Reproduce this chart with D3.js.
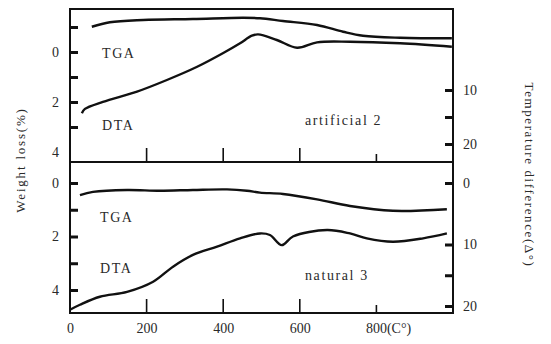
<!DOCTYPE html>
<html>
<head>
<meta charset="utf-8">
<script src="https://cdn.jsdelivr.net/npm/d3@7"></script>
<style>
  body { margin: 0; background: #fff; }
  svg text { font-family: "Liberation Serif", "DejaVu Serif", serif; fill: #2a2a2a; }
</style>
</head>
<body>
<div id="chart"></div>
<script>
// temperature (°C) readings for each curve
const topTgaT = [57, 104, 191, 321, 452, 496, 556, 645, 713, 765, 862, 997];
const topTgaW = [-1.01, -1.19, -1.28, -1.32, -1.37, -1.35, -1.24, -1.08, -0.81, -0.65, -0.57, -0.55];
const topDtaT = [31, 39, 86, 175, 253, 332, 399, 444, 475, 491, 540, 593, 645, 731, 862, 997];
const topDtaD = [14.3, 13.5, 12.2, 10.3, 8.15, 5.7, 3.2, 1.35, -0.06, -0.3, 0.74, 2.17, 1.17, 1.06, 1.35, 1.98];

const botTgaT = [26, 60, 149, 235, 321, 410, 462, 496, 556, 645, 731, 843, 984];
const botTgaW = [0.45, 0.33, 0.26, 0.29, 0.26, 0.24, 0.29, 0.36, 0.41, 0.61, 0.86, 1.04, 0.98];
const botDtaT = [0, 26, 78, 149, 217, 269, 321, 384, 444, 496, 522, 553, 582, 671, 731, 775, 843, 922, 984];
const botDtaD = [20.6, 19.8, 18.5, 17.7, 16.05, 13.6, 11.7, 10.35, 9.0, 8.2, 8.45, 10.1, 8.7, 7.65, 8.2, 9.0, 9.55, 9.0, 8.2];

const xTicks = [0, 200, 400, 600, 800];
const topLeftTicks = [-1, 0, 1, 2, 3, 4];
const topRightTicks = [10, 15, 20];
const botLeftTicks = [0, 1, 2, 3, 4];
const botRightTicks = [0, 10, 15, 20];

const W = 551, H = 344;
const svg = d3.select("#chart").append("svg").attr("width", W).attr("height", H);

const x = d3.scaleLinear().domain([0, 1000]).range([70, 453]);
const topPanel = { y0: 9, y1: 162 };
const botPanel = { y0: 162, y1: 313 };

const yW1 = d3.scaleLinear().domain([0, 4]).range([52, 152]);
const yT1 = d3.scaleLinear().domain([10, 20]).range([90, 144]);
const yW2 = d3.scaleLinear().domain([0, 4]).range([183, 290]);
const yT2 = d3.scaleLinear().domain([0, 20]).range([183, 306]);

function zip(a, b) { return a.map((v, i) => [v, b[i]]); }

function drawPanel(p, yl, yr, lTicks, rTicks, lLabels, rLabels, series) {
  const g = svg.append("g");
  // frame
  g.append("rect")
    .attr("x", x(0)).attr("y", p.y0)
    .attr("width", x(1000) - x(0)).attr("height", p.y1 - p.y0)
    .attr("fill", "none").attr("stroke", "#111").attr("stroke-width", 2);

  const left = d3.axisLeft(yl).tickValues(lTicks).tickSize(-8).tickPadding(11)
    .tickFormat(d => lLabels.includes(d) ? d : "");
  const la = g.append("g").attr("transform", "translate(" + x(0) + ",0)").call(left);
  la.select(".domain").remove();
  la.selectAll("line").attr("stroke", "#111").attr("stroke-width", 3)
    .filter(d => d === 4 && lTicks === topLeftTicks).remove();
  la.selectAll("text").style("font-size", "14px");

  const right = d3.axisRight(yr).tickValues(rTicks).tickSize(-8).tickPadding(10)
    .tickFormat(d => rLabels.includes(d) ? d : "");
  const ra = g.append("g").attr("transform", "translate(" + x(1000) + ",0)").call(right);
  ra.select(".domain").remove();
  ra.selectAll("line").attr("stroke", "#111").attr("stroke-width", 3);
  ra.selectAll("text").style("font-size", "14px");

  // small upward ticks on the bottom edge
  g.selectAll(".xt").data(xTicks.slice(1)).enter().append("line")
    .attr("x1", d => x(d)).attr("x2", d => x(d))
    .attr("y1", p.y1).attr("y2", d => p.y1 - (d === 800 ? 8 : 14))
    .attr("stroke", "#111").attr("stroke-width", 1.6);

  const line = d3.line().x(d => x(d[0])).curve(d3.curveCatmullRom.alpha(0.5));
  series.forEach(s => {
    g.append("path")
      .datum(s.data)
      .attr("d", line.y(d => s.y(d[1])))
      .attr("fill", "none").attr("stroke", "#111").attr("stroke-width", 2.4)
      .attr("stroke-linejoin", "round");
  });
  return g;
}

drawPanel(topPanel, yW1, yT1, topLeftTicks, topRightTicks, [0, 2, 4], [10, 20], [
  { data: zip(topTgaT, topTgaW), y: yW1 },
  { data: zip(topDtaT, topDtaD), y: yT1 }
]);
drawPanel(botPanel, yW2, yT2, botLeftTicks, botRightTicks, [0, 2, 4], [0, 10, 20], [
  { data: zip(botTgaT, botTgaW), y: yW2 },
  { data: zip(botDtaT, botDtaD), y: yT2 }
]);

// x axis labels
const xa = d3.axisBottom(x).tickValues(xTicks).tickSize(0).tickPadding(10)
  .tickFormat(d => d === 800 ? "800(C°)" : d);
const xg = svg.append("g").attr("transform", "translate(0," + botPanel.y1 + ")").call(xa);
xg.select(".domain").remove();
xg.selectAll("text").style("font-size", "14px");
xg.selectAll("text").filter(d => d === 800).attr("text-anchor", "start").attr("dx", -11);

// curve labels
const labels = [
  { t: "TGA", x: 102, y: 58 },
  { t: "DTA", x: 102, y: 130 },
  { t: "artificial 2", x: 305, y: 125 },
  { t: "TGA", x: 100, y: 222 },
  { t: "DTA", x: 100, y: 273 },
  { t: "natural 3", x: 305, y: 280 }
];
svg.selectAll(".lab").data(labels).enter().append("text")
  .attr("x", d => d.x).attr("y", d => d.y)
  .style("font-size", "14px")
  .style("letter-spacing", "1.6px")
  .text(d => d.t);

// axis titles
svg.append("text")
  .attr("transform", "translate(25,160) rotate(-90)")
  .attr("text-anchor", "middle")
  .style("font-size", "13px")
  .style("letter-spacing", "1.8px")
  .text("Weight loss(%)");
svg.append("text")
  .attr("transform", "translate(525,175) rotate(90)")
  .attr("text-anchor", "middle")
  .style("font-size", "13px")
  .style("letter-spacing", "1.6px")
  .text("Temperature difference(Δ°)");
</script>
</body>
</html>
